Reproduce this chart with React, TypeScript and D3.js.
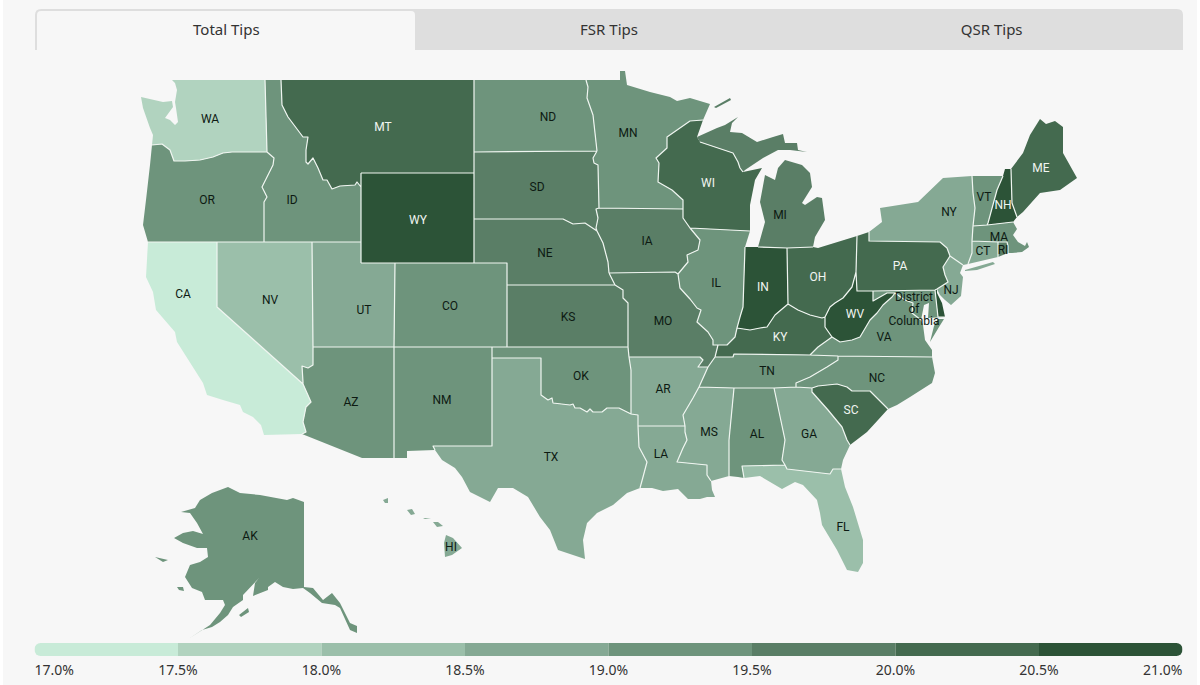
import React from "react";
import * as d3 from "d3";

type Pt = [number, number];

const tabNames = ["Total Tips", "FSR Tips", "QSR Tips"];
const legendBreaks = [17, 17.5, 18, 18.5, 19, 19.5, 20, 20.5, 21];
const binColors = ["#c8ebd8", "#b1d3bf", "#9bbfaa", "#85a994", "#6e947c", "#5a7e66", "#446a4f", "#2c5337"];

const stateCodes = ["AK", "AL", "AR", "AZ", "CA", "CO", "CT", "DC", "DE", "FL", "GA", "HI", "IA", "ID", "IL", "IN", "KS", "KY", "LA", "MA", "MD", "ME", "MI", "MN", "MO", "MS", "MT", "NC", "ND", "NE", "NH", "NJ", "NM", "NV", "NY", "OH", "OK", "OR", "PA", "RI", "SC", "SD", "TN", "TX", "UT", "VA", "VT", "WA", "WI", "WV", "WY"];
const tipValues = [19.2, 19.2, 18.8, 19.2, 17.3, 19.2, 18.9, 19.0, 20.7, 18.3, 18.8, 18.7, 19.7, 19.2, 19.2, 20.7, 19.8, 20.2, 18.8, 19.2, 19.1, 20.2, 19.7, 19.2, 19.8, 18.8, 20.2, 19.2, 19.2, 19.8, 20.7, 18.7, 19.2, 18.3, 18.7, 20.2, 19.2, 19.2, 20.2, 19.6, 20.2, 19.8, 19.2, 18.8, 18.8, 19.2, 19.2, 17.8, 20.2, 20.7, 20.8];

// shared borders in map units, so neighbouring states use the same line
const borders: Record<string, Pt[]> = {
  waCoast: [[265,80],[172,80],[175,83],[177,90],[175,102],[176,108],[178,122],[175,125],[170,120],[165,118],[173,107],[172,101],[163,102],[141,97],[143,108],[150,128],[153,135],[152,145]],
  waOr: [[152,145],[162,144],[170,150],[174,161],[185,161],[200,160],[213,157],[223,153],[232,152],[267,152]],
  waId: [[267,152],[265,80]],
  orCoast: [[152,145],[150,165],[146,200],[143,225],[148,242]],
  orCa: [[148,242],[217,242]],
  orNv: [[217,242],[264,242]],
  idOr: [[267,152],[274,158],[273,165],[262,187],[267,197],[264,202],[264,242]],
  idTop: [[265,80],[281,80]],
  idMt: [[281,80],[282,105],[288,117],[303,137],[308,137],[306,150],[306,162],[308,164],[313,158],[318,168],[323,180],[327,180],[332,189],[340,186],[355,185],[357,182],[361,187]],
  idWy: [[361,187],[361,242]],
  idNv: [[264,242],[312,242]],
  idUt: [[312,242],[361,242]],
  mtTop: [[281,80],[474,80]],
  mtNd: [[474,80],[474,152]],
  mtSd: [[474,152],[474,173]],
  mtWy: [[474,173],[361,173]],
  wyMt: [[361,173],[361,187]],
  wySd: [[474,173],[474,219]],
  wyNe: [[474,219],[474,263]],
  wyCo: [[474,263],[395,263]],
  wyUt: [[395,263],[361,263]],
  wyUt2: [[361,263],[361,242]],
  ndTop: [[474,80],[586,80]],
  ndMn: [[586,80],[588,87],[587,98],[593,115],[597,151]],
  ndSd: [[474,152],[597,151]],
  sdMn: [[597,151],[593,158],[594,163],[598,165],[599,208]],
  sdIa: [[599,208],[596,209],[598,218],[596,228],[597,231]],
  sdNe: [[597,231],[585,223],[573,224],[563,219],[474,219]],
  neIa: [[597,231],[603,243],[608,262],[609,273]],
  neMo: [[609,273],[615,285]],
  neKs: [[615,285],[507,285]],
  neCo: [[507,285],[507,263],[474,263]],
  ksMo: [[615,285],[623,290],[623,298],[628,303],[628,347]],
  ksOk: [[628,347],[507,347]],
  ksCo: [[507,347],[507,285]],
  coOk: [[507,347],[492,347]],
  coNm: [[492,347],[394,347]],
  coUt: [[394,347],[395,263]],
  utAz: [[394,347],[313,347]],
  utNv: [[313,347],[312,242]],
  nvCa: [[217,242],[217,307],[303,384]],
  nvAz: [[303,384],[303,382],[302,366],[308,368],[313,365],[313,347]],
  caCoast: [[148,242],[146,277],[153,292],[156,310],[175,332],[177,342],[203,383],[207,395],[223,400],[240,405],[243,412],[253,417],[261,425],[264,435],[302,434]],
  caAz: [[302,434],[306,432],[303,422],[306,407],[311,402],[303,384]],
  azCoast: [[302,434],[362,458],[394,458]],
  azNm: [[394,458],[394,347]],
  nmOk: [[492,347],[492,358]],
  nmTx: [[492,358],[492,446],[433,446],[435,450]],
  nmCoast: [[435,450],[407,451],[407,458],[394,458]],
  okTx: [[492,358],[541,358],[541,395],[548,400],[552,398],[553,403],[570,405],[573,404],[575,408],[580,408],[587,412],[590,409],[593,412],[602,412],[607,408],[619,408],[631,414]],
  okAr: [[631,414],[631,370],[629,357]],
  okMo: [[629,357],[628,347]],
  txAr: [[631,414],[638,415],[638,426]],
  txLa: [[638,426],[639,447],[647,462],[643,477],[640,488]],
  txCoast: [[640,488],[627,493],[613,505],[597,513],[587,523],[583,540],[585,559],[558,550],[550,530],[540,517],[528,497],[513,488],[498,488],[490,502],[470,492],[462,477],[455,468],[442,460],[435,450]],
  moAr: [[629,357],[700,357],[703,360],[698,367],[708,367]],
  moTn: [[708,367],[715,357]],
  arTn: [[708,367],[699,387]],
  arMs: [[699,387],[693,398],[683,415],[685,426]],
  arLa: [[685,426],[638,426]],
  laMs: [[685,426],[685,432],[687,440],[683,448],[677,462],[707,465],[707,475],[711,481]],
  laCoast: [[711,481],[712,490],[715,497],[707,497],[700,499],[688,499],[678,489],[663,491],[652,488],[640,488]],
  msTn: [[699,387],[734,388]],
  msAl: [[734,388],[729,440],[729,476]],
  msCoast: [[729,476],[711,481]],
  alTn: [[734,388],[774,388]],
  alGa: [[774,388],[785,440],[782,460],[785,465]],
  alFl: [[785,465],[742,466],[744,478]],
  alCoast: [[744,478],[738,477],[729,476]],
  gaTn: [[774,388],[796,387]],
  gaNc: [[796,387],[812,388]],
  gaSc: [[812,388],[812,392],[828,410],[842,427],[847,440],[850,445]],
  gaCoast: [[850,445],[843,460],[841,469]],
  gaFl: [[841,469],[833,469],[830,474],[787,469],[785,465]],
  flCoast: [[841,469],[845,487],[853,507],[863,540],[863,563],[858,572],[847,570],[837,550],[822,525],[820,513],[817,500],[803,485],[795,482],[782,489],[760,476],[744,478]],
  scNc: [[812,388],[818,386],[837,384],[847,387],[852,391],[870,391],[888,409]],
  scCoast: [[888,409],[878,420],[867,432],[850,445]],
  ncTn: [[838,356],[838,360],[827,367],[810,377],[796,383],[796,387]],
  ncVa: [[838,356],[932,357]],
  ncCoast: [[932,357],[935,373],[932,383],[910,397],[897,405],[888,409]],
  tnKy: [[715,357],[733,357],[734,354],[810,355]],
  tnVa: [[810,355],[838,356]],
  moIl: [[678,274],[680,288],[690,299],[697,308],[701,310],[697,322],[708,332],[713,340],[713,345],[718,345]],
  moKy: [[718,345],[715,357]],
  iaMo: [[609,273],[675,272],[678,274]],
  iaIl: [[690,228],[700,240],[698,250],[687,255],[688,262],[678,274]],
  iaWi: [[683,209],[683,218],[690,228]],
  mnIa: [[599,208],[683,209]],
  mnLake: [[586,80],[620,80],[620,71],[625,71],[627,85],[650,92],[670,97],[677,101],[690,98],[710,104],[703,120]],
  mnWi: [[703,120],[690,121],[667,137],[667,148],[656,158],[659,163],[658,182],[672,190],[683,200],[683,209]],
  wiLake1: [[703,120],[697,137],[700,142]],
  wiMi: [[700,142],[727,151],[733,153],[738,162],[740,168],[743,172]],
  wiLake2: [[743,172],[762,168],[755,180],[750,205],[750,231]],
  wiIl: [[750,231],[690,228]],
  miUpper: [[700,142],[697,137],[717,128],[725,125],[738,117],[732,123],[730,132],[742,133],[757,142],[773,137],[783,134],[785,143],[797,143],[798,150],[807,152],[790,150],[778,150],[763,158],[745,170],[743,172]],
  miLower: [[758,247],[765,222],[760,202],[765,175],[775,180],[778,168],[785,160],[802,165],[810,173],[812,187],[802,203],[805,205],[817,197],[822,198],[825,220],[815,237],[813,247]],
  ilLake: [[750,231],[745,247]],
  ilIn: [[745,247],[743,307],[740,317],[737,328]],
  ilKy: [[737,328],[735,337],[727,345],[718,345]],
  inMi1: [[745,247],[758,247]],
  inMi2: [[758,247],[787,248]],
  inOh: [[787,248],[788,304]],
  inKy: [[788,304],[775,315],[767,327],[760,328],[750,330],[737,328]],
  kyOh: [[788,304],[798,310],[810,315],[822,318],[825,317]],
  kyWv: [[825,317],[825,327],[832,337]],
  kyVa: [[832,337],[818,347],[810,355]],
  ohMi: [[787,248],[813,247]],
  ohLake: [[813,247],[818,248],[857,236]],
  ohPa: [[857,236],[856,272]],
  ohWv: [[856,272],[852,287],[843,298],[835,303],[830,307],[825,317]],
  wvPa: [[856,272],[857,291],[873,291]],
  wvMd: [[873,291],[873,301],[887,293],[895,293]],
  wvVa: [[895,293],[892,297],[883,305],[877,313],[870,320],[860,337],[852,340],[840,342],[832,337]],
  paMd: [[873,291],[935,290]],
  paDe: [[935,290],[937,289]],
  paNj: [[937,289],[948,282],[945,275],[943,267],[950,256]],
  paNy: [[950,256],[947,248],[940,242],[869,241],[869,232]],
  paLake: [[869,232],[857,236]],
  nyNj: [[950,256],[963,265]],
  nySea: [[963,265],[968,264]],
  nyCt: [[968,264],[972,253],[972,241]],
  nyMa: [[972,241],[973,226]],
  nyVt: [[973,226],[975,208],[973,193],[972,176]],
  nyLake: [[972,176],[943,178],[918,202],[880,208],[882,222],[869,232]],
  njCoast: [[963,265],[960,273],[963,277],[961,296],[951,305],[945,300],[940,295],[937,289]],
  deMd: [[935,290],[938,317],[945,317]],
  deCoast: [[945,317],[942,303],[937,293],[937,289]],
  mdChes: [[945,317],[928,318],[929,303],[924,305],[921,320]],
  mdVa: [[921,320],[912,313],[913,303],[905,300],[895,293]],
  vaCoast: [[921,320],[923,325],[925,340],[932,350],[932,357]],
  vtTop: [[972,176],[1003,176]],
  vtNh: [[1003,176],[1000,183],[997,190],[988,223],[987,225]],
  vtMa: [[987,225],[973,226]],
  nhLeft: [[1003,176],[1005,169]],
  nhTop: [[1005,169],[1011,169]],
  nhMe: [[1011,169],[1012,203],[1017,217]],
  nhCoast: [[1017,217],[1013,222]],
  nhMa: [[1013,222],[987,225]],
  meCoast: [[1011,169],[1023,153],[1030,135],[1040,119],[1046,124],[1055,121],[1063,127],[1063,153],[1077,178],[1060,190],[1040,193],[1023,212],[1017,217]],
  maCoast: [[1013,222],[1017,229],[1013,235],[1018,242],[1025,246],[1027,242],[1029,247],[1022,252],[1012,253],[1008,253]],
  maRi: [[1008,253],[1008,246],[1007,242]],
  maRi2: [[1007,242],[998,242]],
  maCt: [[998,242],[972,241]],
  riCoast: [[1008,253],[998,257]],
  riCt: [[998,257],[998,242]],
  ctCoast: [[998,257],[968,264]],
};

// each ring lists its borders in order; a leading "-" walks that border backwards
const stateRings: Record<string, string[][]> = {
  WA: [["waCoast", "waOr", "waId"]],
  OR: [["orCoast", "orCa", "orNv", "-idOr", "-waOr"]],
  ID: [["-waId", "idOr", "idNv", "idUt", "-idWy", "-idMt", "-idTop"]],
  MT: [["mtTop", "mtNd", "mtSd", "mtWy", "wyMt", "-idMt"]],
  WY: [["-mtWy", "wySd", "wyNe", "wyCo", "wyUt", "wyUt2", "-idWy", "-wyMt"]],
  ND: [["ndTop", "ndMn", "-ndSd", "-mtNd"]],
  SD: [["ndSd", "sdMn", "sdIa", "sdNe", "-wySd", "-mtSd"]],
  NE: [["-sdNe", "neIa", "neMo", "neKs", "neCo", "-wyNe"]],
  KS: [["-neKs", "ksMo", "ksOk", "ksCo"]],
  CO: [["-wyCo", "-neCo", "-ksCo", "coOk", "coNm", "coUt"]],
  UT: [["idUt", "-wyUt2", "-wyUt", "-coUt", "utAz", "utNv"]],
  NV: [["orNv", "idNv", "-utNv", "-nvAz", "-nvCa"]],
  CA: [["caCoast", "caAz", "-nvCa", "-orCa"]],
  AZ: [["nvAz", "-utAz", "-azNm", "-azCoast", "caAz"]],
  NM: [["-coNm", "nmOk", "nmTx", "nmCoast", "azNm"]],
  OK: [["-coOk", "-ksOk", "-okMo", "-okAr", "-okTx", "-nmOk"]],
  TX: [["okTx", "txAr", "txLa", "txCoast", "-nmTx"]],
  AR: [["moAr", "arTn", "arMs", "arLa", "-txAr", "okAr"]],
  LA: [["-arLa", "laMs", "laCoast", "-txLa"]],
  MS: [["msTn", "msAl", "msCoast", "-laMs", "-arMs"]],
  AL: [["alTn", "alGa", "alFl", "alCoast", "-msAl"]],
  GA: [["gaTn", "gaNc", "gaSc", "gaCoast", "gaFl", "-alGa"]],
  FL: [["-gaFl", "flCoast", "-alFl"]],
  SC: [["scNc", "scCoast", "-gaSc"]],
  NC: [["ncVa", "ncCoast", "-scNc", "-gaNc", "-ncTn"]],
  TN: [["tnKy", "tnVa", "ncTn", "-gaTn", "-alTn", "-msTn", "-arTn", "moTn"]],
  MO: [["iaMo", "moIl", "moKy", "-moTn", "-moAr", "okMo", "-ksMo", "-neMo"]],
  IA: [["mnIa", "iaWi", "iaIl", "-iaMo", "-neIa", "-sdIa"]],
  MN: [["mnLake", "mnWi", "-mnIa", "-sdMn", "-ndMn"]],
  WI: [["-mnWi", "wiLake1", "wiMi", "wiLake2", "wiIl", "-iaWi"]],
  MI: [["miUpper", "-wiMi"], ["miLower", "-ohMi", "-inMi2"]],
  IL: [["-wiIl", "ilLake", "ilIn", "ilKy", "-moIl", "-iaIl"]],
  IN: [["inMi1", "inMi2", "inOh", "inKy", "-ilIn"]],
  KY: [["-inKy", "kyOh", "kyWv", "kyVa", "-tnKy", "-moKy", "-ilKy"]],
  OH: [["ohMi", "ohLake", "ohPa", "ohWv", "-kyOh", "-inOh"]],
  WV: [["wvPa", "wvMd", "wvVa", "-kyWv", "-ohWv"]],
  PA: [["paLake", "ohPa", "wvPa", "paMd", "paDe", "paNj", "paNy"]],
  NY: [["-paNy", "nyNj", "nySea", "nyCt", "nyMa", "nyVt", "nyLake"]],
  NJ: [["nyNj", "njCoast", "paNj"]],
  DE: [["deMd", "deCoast", "-paDe"]],
  MD: [["paMd", "deMd", "mdChes", "mdVa", "-wvMd"]],
  VA: [["-wvVa", "-mdVa", "vaCoast", "-ncVa", "-tnVa", "-kyVa"]],
  VT: [["vtTop", "vtNh", "vtMa", "nyVt"]],
  NH: [["nhLeft", "nhTop", "nhMe", "nhCoast", "nhMa", "-vtNh"]],
  ME: [["-nhMe", "meCoast"]],
  MA: [["-vtMa", "-nhMa", "maCoast", "maRi", "maRi2", "maCt", "nyMa"]],
  RI: [["-maRi2", "-maRi", "riCoast", "riCt"]],
  CT: [["-maCt", "-riCt", "ctCoast", "nyCt"]],
};

// outlines that touch no neighbour: islands and the two inset states
const extraRings: Record<string, Pt[][]> = {
  NY: [[[965,271],[977,270],[995,264],[993,262],[965,270]]],
  MI: [[[714,107],[730,98],[731,100],[716,108]]],
  VA: [[[944,319],[939,327],[930,342],[934,326],[938,319]]],
  DC: [[[904,300],[908,302],[906,305],[902,303]]],
  AK: [
    [[228,487],[240,493],[260,495],[287,500],[293,498],[304,502],[304,587],[313,588],[323,600],[332,593],[340,603],[350,623],[357,626],[357,633],[350,630],[340,608],[335,605],[322,603],[310,593],[303,588],[293,589],[283,587],[275,582],[268,587],[268,590],[253,596],[255,583],[259,578],[243,595],[243,600],[233,607],[228,615],[220,622],[212,627],[202,630],[190,638],[210,625],[220,613],[225,605],[223,600],[205,600],[202,592],[192,588],[185,577],[190,565],[200,562],[208,557],[207,548],[197,548],[183,543],[174,538],[183,533],[193,531],[203,534],[197,523],[190,513],[181,512],[195,508],[200,500],[212,493]],
    [[155,557],[168,560],[163,562]],
    [[177,587],[183,587],[184,591],[179,590]],
    [[239,615],[248,608],[249,612],[241,617]],
  ],
  HI: [
    [[446,535],[453,538],[462,548],[452,555],[445,557],[444,543]],
    [[433,522],[438,522],[443,526],[437,527]],
    [[423,518],[431,518],[425,519]],
    [[407,510],[412,509],[415,514],[411,515]],
    [[383,500],[388,498],[388,503],[385,503]],
  ],
};

const labelAnchors: Record<string, Pt> = {
  WA: [210,119], OR: [207,200], CA: [183,294], NV: [270,300], ID: [292,200], MT: [383,127], WY: [418,220], UT: [364,310], AZ: [351,402], CO: [450,306], NM: [442,400],
  ND: [548,117], SD: [537,187], NE: [545,253], KS: [568,317], OK: [581,376], TX: [551,457], MN: [628,133], IA: [647,241], MO: [663,321], AR: [663,389], LA: [661,454],
  WI: [708,183], IL: [716,283], MI: [780,215], IN: [763,287], KY: [780,337], TN: [767,371], MS: [709,432], AL: [757,434], GA: [809,434], FL: [843,527], OH: [818,277],
  WV: [855,314], VA: [884,337], NC: [877,378], SC: [851,410], PA: [900,266], NY: [949,212], NJ: [951,290], VT: [984,197], NH: [1003,205], ME: [1041,168], MA: [999,237],
  CT: [983,251], RI: [1003,250], HI: [451,547], AK: [250,536], DC: [914,309],
};
const dcLines = ["District", "of", "Columbia"];

const valueByState = new Map(stateCodes.map((c, i) => [c, tipValues[i]]));
const color = d3.scaleThreshold<number, string>().domain(legendBreaks.slice(1, -1)).range(binColors);
const labelFormat = d3.format(".1f");

function ringFrom(parts: string[]): Pt[] {
  const pts: Pt[] = [];
  parts.forEach((p) => {
    const line = p[0] === "-" ? [...borders[p.slice(1)]].reverse() : borders[p];
    line.forEach((q) => {
      const last = pts[pts.length - 1];
      if (!last || last[0] !== q[0] || last[1] !== q[1]) pts.push(q);
    });
  });
  return pts;
}

function closeRing(r: Pt[]): Pt[] {
  const a = r[0];
  const b = r[r.length - 1];
  return a[0] === b[0] && a[1] === b[1] ? r : [...r, a];
}

const features = stateCodes.map((code) => ({
  type: "Feature" as const,
  id: code,
  properties: {},
  geometry: {
    type: "MultiPolygon" as const,
    coordinates: [
      ...(stateRings[code] || []).map((parts) => ringFrom(parts)),
      ...(extraRings[code] || []),
    ].map((r) => [closeRing(r)]),
  },
}));

// only borders used by two states get the white line, coasts stay unstroked
const borderUse = d3.rollup(
  Object.values(stateRings).flat(2),
  (v) => v.length,
  (p) => p.replace("-", "")
);
const innerBorders = {
  type: "MultiLineString" as const,
  coordinates: Object.keys(borders).filter((k) => borderUse.get(k) === 2).map((k) => borders[k]),
};

const projection = d3.geoIdentity();
const geoPath = d3.geoPath(projection);

const legendX = d3.scaleLinear().domain([17, 21]).range([34.5, 1182.5]);
const tabX = d3.scaleBand<string>().domain(tabNames).range([35, 1183]);
const topRounded = (x0: number, x1: number, y0: number, y1: number, r: number) =>
  `M${x0},${y1}V${y0 + r}Q${x0},${y0} ${x0 + r},${y0}H${x1 - r}Q${x1},${y0} ${x1},${y0 + r}V${y1}Z`;

const mapFont = "Roboto, sans-serif";
const uiFont = "'Noto Sans', sans-serif";

export default function App() {
  const [dcX, dcY] = labelAnchors.DC;
  return (
    <svg width={1200} height={685} style={{ position: "absolute", left: 0, top: 0, background: "#fff" }}>
      <rect x={3} y={0} width={1194} height={685} fill="#f7f7f7" />

      <path d={topRounded(35, 1183, 9, 50, 6)} fill="#dedede" />
      <path d={topRounded(37, 415, 11, 50, 4)} fill="#f7f7f7" />
      {tabNames.map((t) => (
        <text key={t} x={tabX(t)! + tabX.bandwidth() / 2} y={35} textAnchor="middle" fontFamily={uiFont} fontSize={15} fill="#333">
          {t}
        </text>
      ))}

      <g>
        {features.map((f) => (
          <path key={f.id} d={geoPath(f as any) || ""} fill={color(valueByState.get(f.id)!)} />
        ))}
        <path d={geoPath(innerBorders as any) || ""} fill="none" stroke="#eff5f0" strokeWidth={1.2} strokeLinejoin="round" />
      </g>

      <g fontFamily={mapFont} fontSize={12} textAnchor="middle">
        {stateCodes.filter((code) => labelAnchors[code] && code !== "DC").map((code) => {
          const [x, y] = labelAnchors[code];
          const fill = valueByState.get(code)! >= 20 ? "#f1f5f1" : "#0d1a12";
          return <text key={code} x={x} y={y + 4} fill={fill}>{code}</text>;
        })}
        <text x={dcX} y={dcY - 8} fill="#0d1a12">
          {dcLines.map((line, i) => (
            <tspan key={line} x={dcX} dy={i === 0 ? 0 : 12}>{line}</tspan>
          ))}
        </text>
      </g>

      <clipPath id="legend-clip">
        <rect x={legendX(17)} y={643} width={legendX(21) - legendX(17)} height={13} rx={6} />
      </clipPath>
      <g clipPath="url(#legend-clip)">
        {binColors.map((c, i) => (
          <rect key={c} x={legendX(legendBreaks[i])} y={643} width={legendX(legendBreaks[i + 1]) - legendX(legendBreaks[i])} height={13} fill={c} />
        ))}
      </g>
      {legendBreaks.map((b, i) => (
        <text
          key={b}
          x={legendX(b)}
          y={675}
          textAnchor={i === 0 ? "start" : i === legendBreaks.length - 1 ? "end" : "middle"}
          fontFamily={uiFont}
          fontSize={14}
          fill="#333"
        >
          {labelFormat(b)}%
        </text>
      ))}
    </svg>
  );
}
